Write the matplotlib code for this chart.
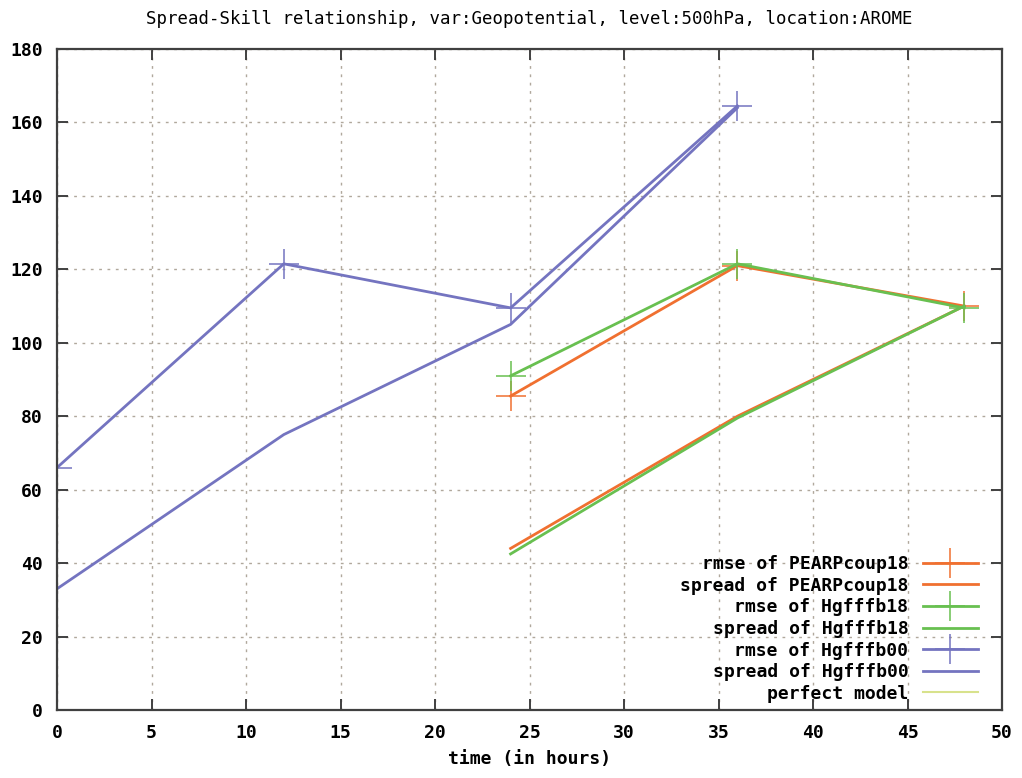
import matplotlib
matplotlib.use("Agg")
import matplotlib.pyplot as plt
from matplotlib.lines import Line2D

# Data
times_pearp = [24, 36, 48]
rmse_pearp = [85.5, 121.0, 110.0]
spread_pearp = [44.0, 80.0, 110.0]

times_b18 = [24, 36, 48]
rmse_b18 = [91.0, 121.5, 109.5]
spread_b18 = [42.5, 79.5, 110.0]

times_b00 = [0, 12, 24, 36]
rmse_b00 = [66.0, 121.5, 109.5, 164.5]
spread_b00 = [33.0, 75.0, 105.0, 164.0]

xticks = list(range(0, 55, 5))
yticks = list(range(0, 200, 20))

title = "Spread-Skill relationship, var:Geopotential, level:500hPa, location:AROME"

c_orange = "#f07030"
c_green = "#68c050"
c_purple = "#7474c0"
c_perfect = "#d8e28c"

plt.rcParams['font.family'] = ['DejaVu Sans Mono']

fig = plt.figure(figsize=(10.22, 7.78), dpi=100)
ax = fig.add_axes([57/1022, 1-710/778, (1002-57)/1022, (710-49)/778])

lw = 2.0
ms = 22
mew = 1.1

ax.plot(times_pearp, rmse_pearp, color=c_orange, lw=lw, marker='+', ms=ms, mew=mew, label="rmse of PEARPcoup18")
ax.plot(times_pearp, spread_pearp, color=c_orange, lw=lw, label="spread of PEARPcoup18")
ax.plot(times_b18, rmse_b18, color=c_green, lw=lw, marker='+', ms=ms, mew=mew, label="rmse of Hgfffb18")
ax.plot(times_b18, spread_b18, color=c_green, lw=lw, label="spread of Hgfffb18")
ax.plot(times_b00, rmse_b00, color=c_purple, lw=lw, marker='+', ms=ms, mew=mew, label="rmse of Hgfffb00")
ax.plot(times_b00, spread_b00, color=c_purple, lw=lw, label="spread of Hgfffb00")
perfect = Line2D([], [], color=c_perfect, lw=1.5, label="perfect model")
ax.add_line(perfect)

ax.set_xlim(0, 50)
ax.set_ylim(0, 180)
ax.set_xticks(xticks)
ax.set_yticks(yticks)
ax.grid(True, color="#b0a89c", linestyle=(0, (2, 4)), linewidth=1.0)
ax.set_axisbelow(True)

for s in ax.spines.values():
    s.set_color("#404040")
    s.set_linewidth(1.6)

ax.tick_params(direction='in', length=8, width=1.4, color="#404040",
               top=True, right=True, labelsize=13, pad=10)
for lab in ax.get_xticklabels() + ax.get_yticklabels():
    lab.set_fontweight('bold')

ax.set_xlabel("time (in hours)", fontsize=13, fontweight='bold', labelpad=6)
ax.set_title(title, fontsize=12.5, pad=18)

leg = ax.legend(loc='lower right', bbox_to_anchor=(0.982, 0.0), frameon=False,
                markerfirst=False, prop={'weight': 'bold', 'size': 13},
                handlelength=3.05, labelspacing=0.2, handletextpad=0.8,
                borderaxespad=0.0)

fig.savefig("out.png", dpi=100)
